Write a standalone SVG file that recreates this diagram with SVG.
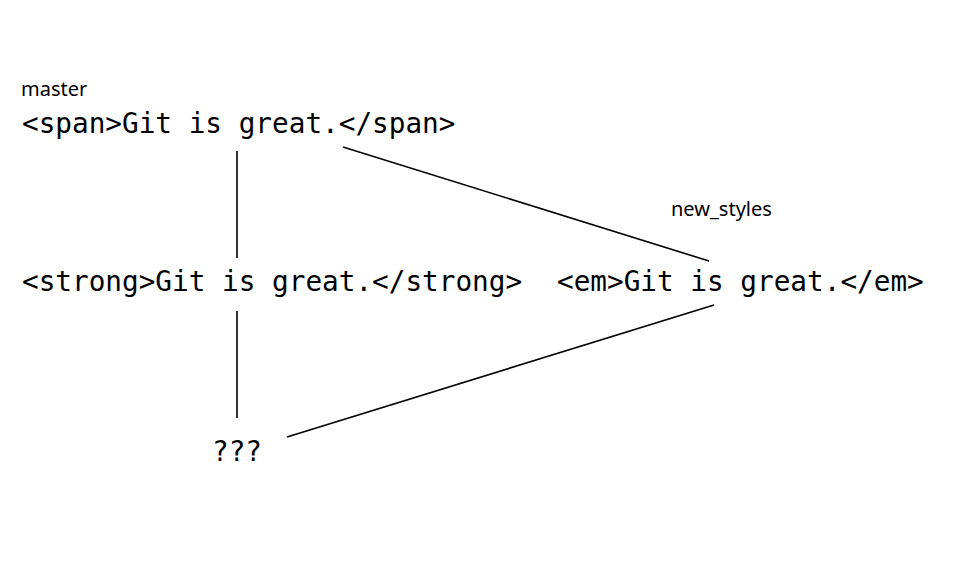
<svg xmlns="http://www.w3.org/2000/svg" width="974" height="567" viewBox="0 0 974 567">
<style>
.code{font-family:"DejaVu Sans Mono","Liberation Mono",monospace;font-size:27.7px;fill:#000}
.lbl{font-family:"Noto Sans","Lato",sans-serif;font-size:20px;fill:#000}
.edge{stroke:#000;stroke-width:1.6;fill:none}
</style>
<rect width="974" height="567" fill="#fff"/>
<g id="connectors">
<line class="edge" x1="237" y1="151" x2="237" y2="258"/>
<line class="edge" x1="237" y1="311" x2="237" y2="418"/>
<line class="edge" x1="343" y1="147" x2="709" y2="261"/>
<line class="edge" x1="714" y1="305" x2="287" y2="437"/>
</g>
<g id="master">
<text class="lbl" x="21" y="96">master</text>
<text class="code" x="22" y="133">&lt;span&gt;Git is great.&lt;/span&gt;</text>
</g>
<g id="strong">
<text class="code" x="22" y="291">&lt;strong&gt;Git is great.&lt;/strong&gt;</text>
</g>
<g id="new_styles">
<text class="lbl" x="671" y="216">new_styles</text>
<text class="code" x="557" y="291">&lt;em&gt;Git is great.&lt;/em&gt;</text>
</g>
<g id="unknown">
<text class="code" x="212" y="461">???</text>
</g>
</svg>
